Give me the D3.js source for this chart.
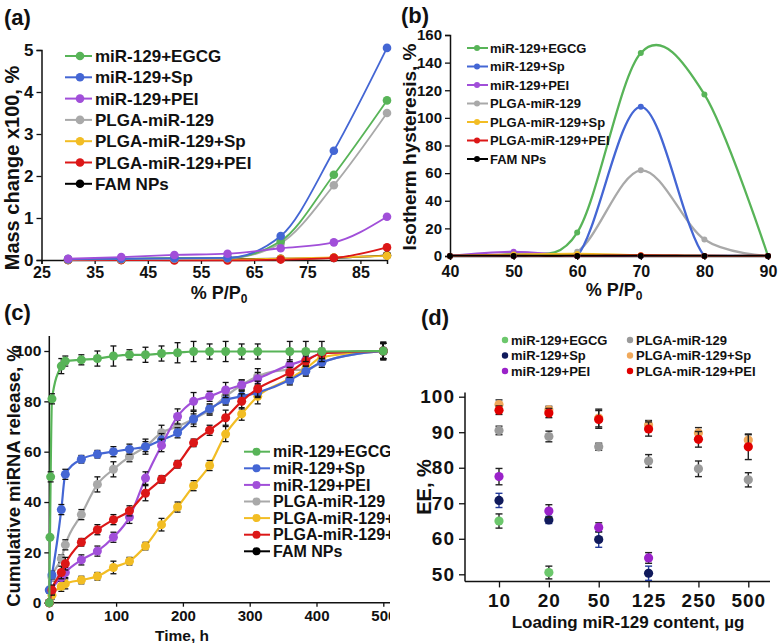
<!DOCTYPE html>
<html><head><meta charset="utf-8">
<script src="https://cdn.jsdelivr.net/npm/d3@7"></script>
<style>body{margin:0;background:#fff}svg{display:block}text{font-family:"Liberation Sans",Arial,sans-serif;fill:#111}</style>
</head><body><svg id="chart" width="780" height="643"></svg>
<script>
// ---------- DATA ----------
const seriesNames = ["miR-129+EGCG","miR-129+Sp","miR-129+PEI","PLGA-miR-129","PLGA-miR-129+Sp","PLGA-miR-129+PEI","FAM NPs"];
const lineColors = ["#58b458","#4466d4","#a14fd9","#a9a9a9","#f2bd24","#dc1717","#000000"];

// (a) mass change x100, %
const pressureA = [30,40,50,60,70,80,90];
const massEGCG    = [0.02,0.03,0.05,0.05,0.45,2.03,3.80];
const massSp      = [0.02,0.03,0.04,0.05,0.57,2.60,5.05];
const massPEI     = [0.03,0.07,0.12,0.15,0.28,0.42,1.03];
const massPLGA    = [0.01,0.02,0.03,0.04,0.40,1.78,3.50];
const massPLGASp  = [0.00,0.00,0.00,0.01,0.03,0.06,0.10];
const massPLGAPEI = [0.00,0.00,-0.01,-0.01,0.01,0.05,0.30];
const massFAM     = [0.00,0.00,0.03,0.02,0.03,0.05,0.11];
const ticksAx = [25,35,45,55,65,75,85];
const ticksAy = [0,1,2,3,4,5];

// (b) isotherm hysteresis, %
const pressureB = [40,50,60,70,80,90];
const hystEGCG    = [0,2,17,147,117,0];
const hystSp      = [0,0,0,108,0,0];
const hystPEI     = [0,3,0,0,0,0];
const hystPLGA    = [0,1,3,62,12,0];
const hystPLGASp  = [0,1,1.5,0.5,0,0];
const hystPLGAPEI = [0,0,0,0.5,0,0];
const hystFAM     = [0,0,0,0,0,0];
const ticksBx = [40,50,60,70,80,90];
const ticksBy = [0,20,40,60,80,100,120,140,160];

// (c) cumulative miRNA release, %
const timeEGCG = [0,1,2,4,18,24,48,72,96,120,144,168,192,216,240,264,288,312,360,384,408,500];
const relEGCG  = [0,26,50,81,94,96,96.5,97,98,98.5,98.5,99,99.3,99.8,99.8,99.8,99.8,99.8,99.8,99.8,99.8,100];
const errEGCG  = [0,1,2,2,3,2,2,3,4,2,3,3,4,4,3,4,3,3,4,4,4,3];
const timeC = [0,4,18,24,48,72,96,120,144,168,192,216,240,264,288,312,360,384,408,500];
const relSp      = [5,11,37,51,57,59,60,61,62,64.7,67.5,73,77,80.5,82,83.5,88.5,92,95.5,100];
const errSp      = [1,1.5,2,2,1.5,1.5,2,2,2,2.5,2,2,2,2,2,2,2,2,2,3];
const relPEI     = [0,5,10,12,17,20.5,26,34,49.5,62.5,74,80,82,84.5,86.5,89,94.5,96.5,99,100];
const errPEI     = [0,1.5,1.5,2,2,2,2,2.5,2.5,2.5,3,3.5,2,3,2,2.5,2,2,2,3];
const relPLGA    = [5,10,17.5,23,35,47,53,58,62,67.5,70,73,76.5,82,86.5,90,92.5,92.5,95.5,100];
const errPLGA    = [1,1.5,1.5,2,2,3,3,2,3,3,2.5,3,2,3,2,3,2,2,2,3];
const relPLGASp  = [0,3,6.5,7.5,9,10.5,14,16.5,22.5,31,38,46.5,54.5,67,75,82,89,93,97.5,100];
const errPLGASp  = [0,1.5,2,2,1.5,1.5,2.5,1.5,1.5,2.5,2,2,2,3,2.5,3,2,2,2,3];
const relPLGAPEI = [0,5,12,15.5,24,29,33,36.5,43.5,49,55,63.5,68.5,73.5,80,85,91.5,96,99,100];
const errPLGAPEI = [0,2,2.5,2.5,1.5,2,2,2,3,1.5,1.5,1.5,2,3,3,3,2,2,2,3.5];
const timeFAM = [0,500];
const relFAM  = [0,100];
const errFAM  = [0,3.5];
const ticksCx = [0,100,200,300,400,500];
const ticksCy = [0,20,40,60,80,100];

// (d) encapsulation efficiency, %
const loadCats = ["10","20","50","125","250","500"];
const eeEGCG    = [65,50.5,null,null,null,null];
const eeEGCGErr = [2,1.8,0,0,0,0];
const eeSp      = [70.8,65.3,59.8,50.3,null,null];
const eeSpErr   = [2,1,2.2,2,0,0];
const eePEI     = [77.5,67.8,63.2,54.6,null,null];
const eePEIErr  = [2.3,1.8,1.3,1.5,0,0];
const eePLGA    = [90.5,88.8,85.9,81.9,79.7,76.6];
const eePLGAErr = [1.2,1.5,1,1.8,2.2,2];
const eePLGASp  = [97.8,96.3,94,92,89.8,87.8];
const eePLGASpErr = [1.3,1,2.5,1.3,1.5,1.5];
const eePLGAPEI = [96.2,95.4,93.6,90.9,88,85.9];
const eePLGAPEIErr = [1.2,1.3,2.5,2,2.2,3.6];
const ticksDy = [50,60,70,80,90,100];
const dotColorsD = ["#6cc76c","#101a5c","#9a22c9","#9a9a9a","#f0a95c","#e00000"];
const legendD = ["miR-129+EGCG","miR-129+Sp","miR-129+PEI","PLGA-miR-129","PLGA-miR-129+Sp","PLGA-miR-129+PEI"];

// ---------- DRAW ----------
const svg = d3.select("#chart");
const B = "bold";

function styleAxis(g, fs) {
  g.select(".domain").attr("stroke","#111").attr("stroke-width",1.5);
  g.selectAll(".tick line").attr("stroke","#111").attr("stroke-width",1.3);
  g.selectAll(".tick text").attr("font-size",fs).attr("font-weight",B)
    .attr("font-family","'Liberation Sans',Arial,sans-serif").attr("fill","#111");
}
function panelLabel(p,t,x,y){ p.append("text").attr("x",x).attr("y",y).attr("font-size",22).attr("font-weight",B).text(t); }
function yLabel(p,t,x,y,fs){ p.append("text").attr("transform",`translate(${x},${y}) rotate(-90)`).attr("text-anchor","middle").attr("font-size",fs).attr("font-weight",B).text(t); }
function ppLabel(p,x,y){
  const t = p.append("text").attr("x",x).attr("y",y).attr("text-anchor","middle").attr("font-size",18).attr("font-weight",B);
  t.append("tspan").text("% P/P");
  t.append("tspan").attr("dy",4).attr("font-size",12).text("0");
}

// ===== (a) =====
{
  const P = svg.append("g");
  const x = d3.scaleLinear([25,90],[41.5,387]);
  const y = d3.scaleLinear([0,5],[260,50]);
  const gy = P.append("g").attr("transform","translate(41.5,0)").call(d3.axisLeft(y).tickValues(ticksAy).tickSizeOuter(0).tickSize(5).tickFormat(d3.format("d")));
  styleAxis(gy,17);
  const gx = P.append("g").attr("transform","translate(0,260)").call(d3.axisBottom(x).tickValues(ticksAx).tickSizeOuter(0).tickSize(4).tickPadding(3));
  styleAxis(gx,16);
  const data = [massEGCG,massSp,massPEI,massPLGA,massPLGASp,massPLGAPEI,massFAM];
  const order = [6,4,5,3,0,1,2];
  const line = d3.line().x((d,i)=>x(pressureA[i])).y(d=>y(d)).curve(d3.curveMonotoneX);
  order.forEach(k=>{
    P.append("path").attr("d",line(data[k])).attr("fill","none").attr("stroke",lineColors[k]).attr("stroke-width",1.8);
    P.append("g").selectAll("circle").data(data[k]).join("circle")
      .attr("cx",(d,i)=>x(pressureA[i])).attr("cy",d=>y(d)).attr("r",4.3).attr("fill",lineColors[k]);
  });
  seriesNames.forEach((n,i)=>{
    const yy = 56 + i*21.3;
    P.append("line").attr("x1",65).attr("x2",92).attr("y1",yy).attr("y2",yy).attr("stroke",lineColors[i]).attr("stroke-width",2);
    P.append("circle").attr("cx",80).attr("cy",yy).attr("r",4.3).attr("fill",lineColors[i]);
    P.append("text").attr("x",95).attr("y",yy).attr("dy","0.36em").attr("font-size",17).attr("font-weight",B).text(n);
  });
  panelLabel(P,"(a)",4,25);
  yLabel(P,"Mass change x100, %",19,168,20);
  ppLabel(P,219,299);
}

// ===== (b) =====
{
  const P = svg.append("g");
  const x = d3.scaleLinear([40,90],[450,768]);
  const y = d3.scaleLinear([0,160],[256,35]);
  const gy = P.append("g").attr("transform","translate(450,0)").call(d3.axisLeft(y).tickValues(ticksBy).tickSizeOuter(0).tickSize(5));
  styleAxis(gy,15);
  const gx = P.append("g").attr("transform","translate(0,256)").call(d3.axisBottom(x).tickValues(ticksBx).tickSizeOuter(0).tickSize(4).tickPadding(6));
  styleAxis(gx,16);
  P.append("clipPath").attr("id","clipB").append("rect").attr("x",440).attr("y",20).attr("width",340).attr("height",236.5);
  const data = [hystEGCG,hystSp,hystPEI,hystPLGA,hystPLGASp,hystPLGAPEI,hystFAM];
  const order = [0,3,1,2,4,5,6];
  const line = d3.line().x((d,i)=>x(pressureB[i])).y(d=>y(d)).curve(d3.curveCardinal.tension(0));
  const gp = P.append("g").attr("clip-path","url(#clipB)");
  order.forEach(k=>{
    gp.append("path").attr("d",line(data[k])).attr("fill","none").attr("stroke",lineColors[k]).attr("stroke-width",2.3);
    P.append("g").selectAll("circle").data(data[k]).join("circle")
      .attr("cx",(d,i)=>x(pressureB[i])).attr("cy",d=>y(d)).attr("r",3).attr("fill",lineColors[k]);
  });
  seriesNames.forEach((n,i)=>{
    const yy = 48 + i*18.5;
    P.append("line").attr("x1",467).attr("x2",488).attr("y1",yy).attr("y2",yy).attr("stroke",lineColors[i]).attr("stroke-width",2);
    P.append("circle").attr("cx",477).attr("cy",yy).attr("r",3).attr("fill",lineColors[i]);
    P.append("text").attr("x",490).attr("y",yy).attr("dy","0.36em").attr("font-size",13).attr("font-weight",B).text(n);
  });
  panelLabel(P,"(b)",401,23);
  yLabel(P,"Isotherm hysteresis, %",416,147,19);
  ppLabel(P,614,296);
}

// ===== (c) =====
{
  svg.append("clipPath").attr("id","clipC").append("rect").attr("x",0).attr("y",300).attr("width",390).attr("height",343);
  const P = svg.append("g").attr("clip-path","url(#clipC)");
  const x = d3.scaleLinear([0,500],[49.3,383.3]);
  const y = d3.scaleLinear([0,100],[602.7,351]);
  P.append("line").attr("x1",49.3).attr("x2",49.3).attr("y1",602.7).attr("y2",y(106)).attr("stroke","#111").attr("stroke-width",1.5);
  const gy = P.append("g").attr("transform","translate(49.3,0)").call(d3.axisLeft(y).tickValues(ticksCy).tickSizeOuter(0).tickSize(5));
  styleAxis(gy,15.5);
  gy.select(".domain").remove();
  P.append("line").attr("x1",49.3).attr("x2",390).attr("y1",602.7).attr("y2",602.7).attr("stroke","#111").attr("stroke-width",1.5);
  const gx = P.append("g").attr("transform","translate(0,602.7)").call(d3.axisBottom(x).tickValues(ticksCx).tickSizeOuter(0).tickSize(4).tickPadding(4));
  styleAxis(gx,15);
  gx.select(".domain").remove();
  const sets = [
    [timeEGCG,relEGCG,errEGCG],[timeC,relSp,errSp],[timeC,relPEI,errPEI],[timeC,relPLGA,errPLGA],
    [timeC,relPLGASp,errPLGASp],[timeC,relPLGAPEI,errPLGAPEI],[timeFAM,relFAM,errFAM]
  ];
  const order = [6,3,4,1,2,5,0];
  order.forEach(k=>{
    const [t,v,e] = sets[k];
    const pts = t.map((tt,i)=>({t:tt,v:v[i],e:e[i]}));
    if (k!==6) {
      const line = d3.line().x(d=>x(d.t)).y(d=>y(d.v)).curve(d3.curveMonotoneX);
      P.append("path").attr("d",line(pts)).attr("fill","none").attr("stroke",lineColors[k]).attr("stroke-width",2.2);
    }
    const ge = P.append("g").attr("stroke","#111").attr("stroke-width",1.3);
    pts.filter(d=>d.e>0).forEach(d=>{
      const cx = x(d.t);
      ge.append("line").attr("x1",cx).attr("x2",cx).attr("y1",y(d.v-d.e)).attr("y2",y(d.v+d.e));
      ge.append("line").attr("x1",cx-3).attr("x2",cx+3).attr("y1",y(d.v-d.e)).attr("y2",y(d.v-d.e));
      ge.append("line").attr("x1",cx-3).attr("x2",cx+3).attr("y1",y(d.v+d.e)).attr("y2",y(d.v+d.e));
    });
    P.append("g").selectAll("circle").data(pts).join("circle")
      .attr("cx",d=>x(d.t)).attr("cy",d=>y(d.v)).attr("r",4.5).attr("fill",lineColors[k]);
  });
  seriesNames.forEach((n,i)=>{
    const yy = 451.7 + i*16.6;
    P.append("line").attr("x1",244).attr("x2",270).attr("y1",yy).attr("y2",yy).attr("stroke",lineColors[i]).attr("stroke-width",2);
    P.append("circle").attr("cx",256.5).attr("cy",yy).attr("r",4).attr("fill",lineColors[i]);
    P.append("text").attr("x",273).attr("y",yy).attr("dy","0.36em").attr("font-size",16).attr("font-weight",B).text(n);
  });
  panelLabel(P,"(c)",4,320);
  yLabel(P,"Cumulative miRNA release, %",20,476,18.5);
  P.append("text").attr("x",182).attr("y",641).attr("text-anchor","middle").attr("font-size",15.5).attr("font-weight",B).text("Time, h");
}

// ===== (d) =====
{
  const P = svg.append("g");
  const x = d3.scalePoint(loadCats,[499,748.3]);
  const y = d3.scaleLinear([50,100],[574.3,396.7]);
  P.append("line").attr("x1",465).attr("x2",465).attr("y1",y(48)).attr("y2",y(101.2)).attr("stroke","#111").attr("stroke-width",1.5);
  const gy = P.append("g").attr("transform","translate(465,0)").call(d3.axisLeft(y).tickValues(ticksDy).tickSizeOuter(0).tickSize(6).tickPadding(4));
  styleAxis(gy,19); gy.select(".domain").remove();
  gy.selectAll(".tick text").attr("letter-spacing",1);
  P.append("line").attr("x1",465).attr("x2",770).attr("y1",y(48)).attr("y2",y(48)).attr("stroke","#111").attr("stroke-width",1.5);
  const gx = P.append("g").attr("transform",`translate(0,${y(48)})`).call(d3.axisBottom(x).tickSizeOuter(0).tickSize(6).tickPadding(6));
  styleAxis(gx,19); gx.select(".domain").remove();
  gx.selectAll(".tick text").attr("letter-spacing",1);
  const sets = [[eeEGCG,eeEGCGErr],[eeSp,eeSpErr],[eePEI,eePEIErr],[eePLGA,eePLGAErr],[eePLGASp,eePLGASpErr],[eePLGAPEI,eePLGAPEIErr]];
  const order = [3,0,1,2,4,5];
  order.forEach(k=>{
    const [v,e] = sets[k];
    const pts = loadCats.map((c,i)=>({c,v:v[i],e:e[i]})).filter(d=>d.v!==null);
    const ge = P.append("g").attr("stroke",k===1?"#233a9a":"#222").attr("stroke-width",1.4);
    pts.forEach(d=>{
      const cx = x(d.c);
      ge.append("line").attr("x1",cx).attr("x2",cx).attr("y1",y(d.v-d.e)).attr("y2",y(d.v+d.e));
      ge.append("line").attr("x1",cx-3.5).attr("x2",cx+3.5).attr("y1",y(d.v-d.e)).attr("y2",y(d.v-d.e));
      ge.append("line").attr("x1",cx-3.5).attr("x2",cx+3.5).attr("y1",y(d.v+d.e)).attr("y2",y(d.v+d.e));
    });
    P.append("g").selectAll("circle").data(pts).join("circle")
      .attr("cx",d=>x(d.c)).attr("cy",d=>y(d.v)).attr("r",4.6).attr("fill",dotColorsD[k]);
  });
  legendD.forEach((n,i)=>{
    const col = Math.floor(i/3), row = i%3;
    const yy = 340 + row*15.5;
    const cx = col===0 ? 505 : 630;
    P.append("circle").attr("cx",cx).attr("cy",yy).attr("r",3.2).attr("fill",dotColorsD[i]);
    P.append("text").attr("x",cx+6).attr("y",yy).attr("dy","0.36em").attr("font-size",13).attr("font-weight",B).text(n);
  });
  panelLabel(P,"(d)",421,325);
  yLabel(P,"EE, %",431,487,20);
  P.append("text").attr("x",628).attr("y",628).attr("text-anchor","middle").attr("font-size",17).attr("font-weight",B).text("Loading miR-129 content, µg");
}
</script></body></html>
